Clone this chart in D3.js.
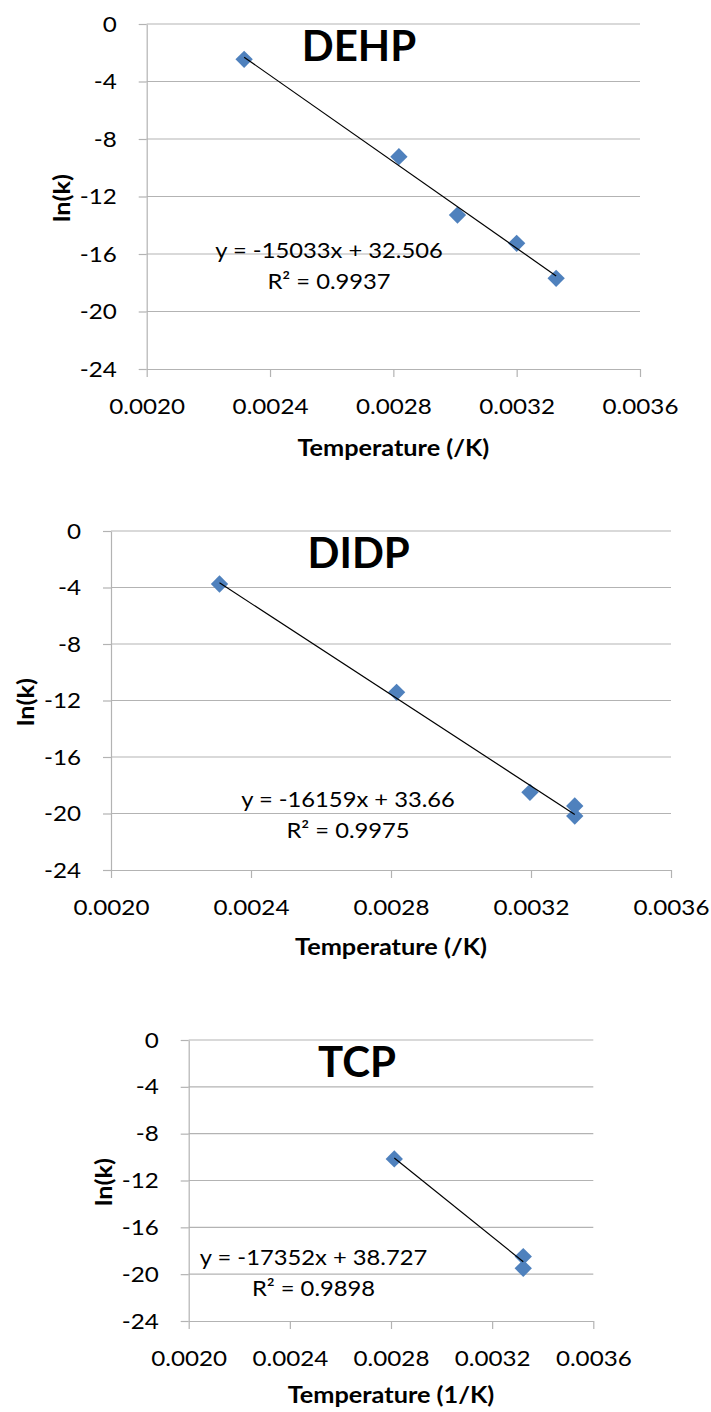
<!DOCTYPE html>
<html>
<head>
<meta charset="utf-8">
<script src="https://cdn.jsdelivr.net/npm/d3@7"></script>
<style>
  html, body { margin: 0; padding: 0; background: #fff; }
  svg { display: block; }
  text { font-family: Lato, "Open Sans", sans-serif; fill: #000; }
  .tick text { font-size: 22px; transform-box: fill-box; transform: scaleX(1.1); }
  .y-axis .tick text { transform-origin: right center; }
  .x-axis .tick text { transform-origin: center center; }
  .axis-title { font-size: 23px; font-weight: 700; }
  .x-title { transform-box: fill-box; transform-origin: center center; transform: scaleX(1.1); }
  .chart-title { font-size: 42px; font-weight: 700; }
  .fit-label { font-size: 22px; transform-box: fill-box; transform-origin: center center; transform: scaleX(1.08); }
</style>
</head>
<body>
<svg id="chart" width="711" height="1412"></svg>
<script>
// Arrhenius plots: ln(k) against inverse temperature for three plasticisers
const compounds = ["DEHP", "DIDP", "TCP"];
const xTitles = ["Temperature (/K)", "Temperature (/K)", "Temperature (1/K)"];
const yTitle = "ln(k)";

const xTicks = [0.0020, 0.0024, 0.0028, 0.0032, 0.0036];
const yTicks = [0, -4, -8, -12, -16, -20, -24];

// measured points (1/T, ln k)
const dehpX = [0.002316, 0.002818, 0.003008, 0.003200, 0.003328];
const dehpY = [-2.46, -9.23, -13.29, -15.26, -17.69];
const didpX = [0.002310, 0.002816, 0.003197, 0.003325, 0.003325];
const didpY = [-3.75, -11.42, -18.50, -19.47, -20.18];
const tcpX = [0.002813, 0.003323, 0.003323];
const tcpY = [-10.16, -18.50, -19.50];

// linear least-squares fits
const fitSlopes = [-15033, -16159, -17352];
const fitIntercepts = [32.506, 33.66, 38.727];
const fitR2 = ["0.9937", "0.9975", "0.9898"];

const seriesX = [dehpX, didpX, tcpX];
const seriesY = [dehpY, didpY, tcpY];

// panel layout (pixels)
const layout = [
  { left: 146.7, right: 640,   top: 24,   bottom: 369,  titleX: 359, eqX: 329, eqY: 258, xTitleDy: 87 },
  { left: 111,   right: 671,   top: 531,  bottom: 870,  titleX: 358.7, eqX: 348, eqY: 806.7, xTitleDy: 85 },
  { left: 188.7, right: 593.3, top: 1040, bottom: 1321, titleX: 357, eqX: 313.5, eqY: 1265, xTitleDy: 82 }
];

const svg = d3.select("#chart");
svg.append("rect").attr("width", 711).attr("height", 1412).attr("fill", "#fff");

const gridColor = "#b3b3b3";
const markerColor = "#4f81bd";
const diamond = d3.symbol().type(d3.symbolSquare).size(150);

layout.forEach((L, i) => {
  const g = svg.append("g");
  const x = d3.scaleLinear().domain([xTicks[0], xTicks[xTicks.length - 1]]).range([L.left, L.right]);
  const y = d3.scaleLinear().domain([yTicks[yTicks.length - 1], yTicks[0]]).range([L.bottom, L.top]);

  // horizontal gridlines
  g.append("g").selectAll("line").data(yTicks.slice(0, -1)).join("line")
    .attr("x1", L.left).attr("x2", L.right)
    .attr("y1", d => y(d)).attr("y2", d => y(d))
    .attr("stroke", gridColor).attr("stroke-width", 1.2);

  // y axis
  const ya = g.append("g").attr("class", "y-axis").attr("transform", `translate(${L.left},0)`)
    .call(d3.axisLeft(y).tickValues(yTicks).tickSize(8).tickSizeOuter(0).tickPadding(22)
      .tickFormat(d => String(d)));
  ya.select(".domain").attr("stroke", gridColor).attr("stroke-width", 1.2);
  ya.selectAll(".tick line").attr("stroke", gridColor).attr("stroke-width", 1.2);

  // x axis
  const xa = g.append("g").attr("class", "x-axis").attr("transform", `translate(0,${L.bottom})`)
    .call(d3.axisBottom(x).tickValues(xTicks).tickSize(8).tickSizeOuter(0)
      .tickFormat(d3.format(".4f")));
  xa.select(".domain").attr("stroke", gridColor).attr("stroke-width", 1.2);
  xa.selectAll(".tick line").attr("stroke", gridColor).attr("stroke-width", 1.2);
  xa.selectAll(".tick text").attr("y", 45).attr("dy", 0);
  [ya, xa].forEach(a => a.attr("font-family", null).attr("font-size", null));

  // markers
  const pts = seriesX[i].map((v, k) => [v, seriesY[i][k]]);
  g.append("g").selectAll("path").data(pts).join("path")
    .attr("d", diamond)
    .attr("transform", d => `translate(${x(d[0])},${y(d[1])}) rotate(45)`)
    .attr("fill", markerColor);

  // trendline over the data range
  const [xmin, xmax] = d3.extent(seriesX[i]);
  const fit = v => fitSlopes[i] * v + fitIntercepts[i];
  g.append("line")
    .attr("x1", x(xmin)).attr("y1", y(fit(xmin)))
    .attr("x2", x(xmax)).attr("y2", y(fit(xmax)))
    .attr("stroke", "#000").attr("stroke-width", 1.2);

  // fit equation
  const eq = `y = ${fitSlopes[i]}x + ${fitIntercepts[i]}`;
  g.append("text").attr("class", "fit-label").attr("text-anchor", "middle")
    .attr("x", L.eqX).attr("y", L.eqY).text(eq);
  g.append("text").attr("class", "fit-label").attr("text-anchor", "middle")
    .attr("x", L.eqX).attr("y", L.eqY + 31).text(`R² = ${fitR2[i]}`);

  // chart title
  g.append("text").attr("class", "chart-title").attr("text-anchor", "middle")
    .attr("x", L.titleX).attr("y", L.top + 37).text(compounds[i]);

  // axis titles
  g.append("text").attr("class", "axis-title x-title").attr("text-anchor", "middle")
    .attr("x", (L.left + L.right) / 2).attr("y", L.bottom + L.xTitleDy).text(xTitles[i]);
  g.append("text").attr("class", "axis-title").attr("text-anchor", "middle")
    .attr("transform", `translate(${L.left - 77},${(L.top + L.bottom) / 2 + 1.5}) rotate(-90) scale(1.1,1)`)
    .text(yTitle);
});
</script>
</body>
</html>
